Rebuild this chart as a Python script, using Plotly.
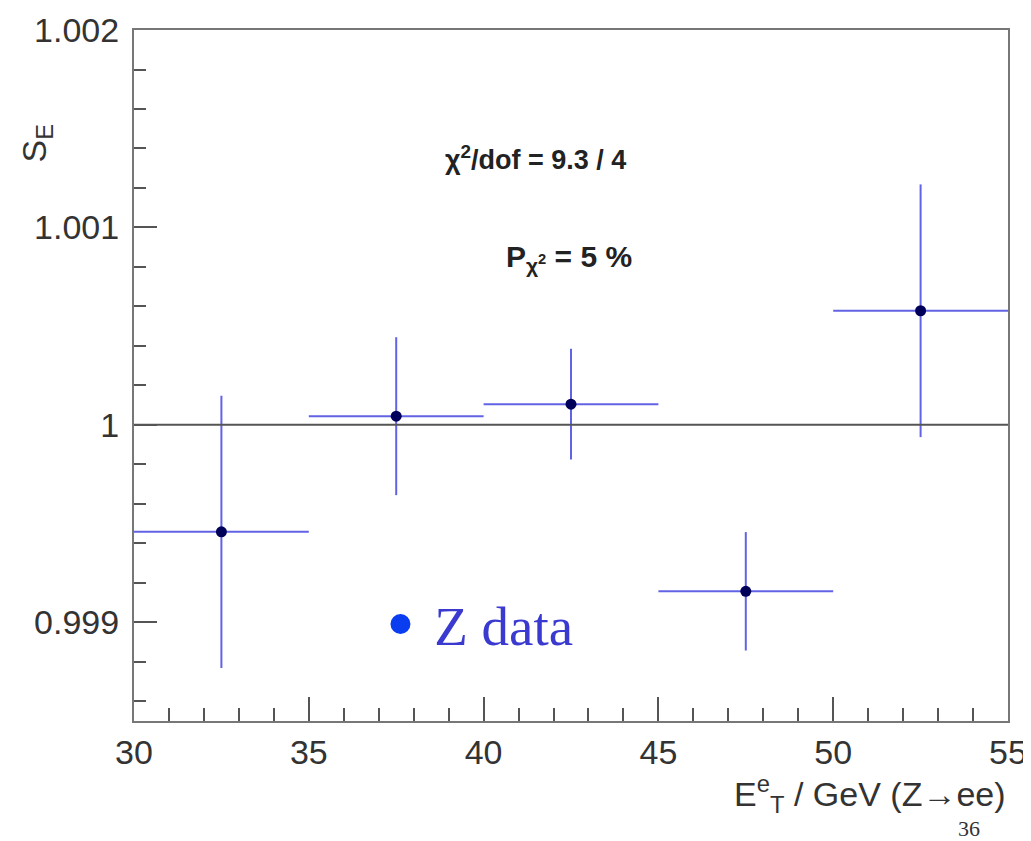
import plotly.graph_objects as go

# Data
bin_centers = [32.5, 37.5, 42.5, 47.5, 52.5]
bin_halfwidth = [2.5, 2.5, 2.5, 2.5, 2.5]
s_e = [0.999458, 1.000044, 1.000105, 0.999157, 1.000578]
s_e_err = [0.00069, 0.00040, 0.00028, 0.00030, 0.00064]
x_ticks = [30, 35, 40, 45, 50, 55]
y_ticks = [0.999, 1.0, 1.001, 1.002]
y_tick_labels = ["0.999", "1", "1.001", "1.002"]
x_range = [30, 55]
y_range = [0.9985, 1.0020001]
ref_value = 1.0

fig = go.Figure()

fig.add_trace(go.Scatter(
    x=bin_centers, y=s_e, mode="markers",
    marker=dict(color="#00005a", size=11),
    error_x=dict(type="data", array=bin_halfwidth, color="rgba(70,70,225,0.85)", thickness=2, width=0),
    error_y=dict(type="data", array=s_e_err, color="rgba(70,70,225,0.85)", thickness=2, width=0),
    showlegend=False,
))

# legend entry
fig.add_trace(go.Scatter(
    x=[None], y=[None], mode="markers", name=" Z data",
    marker=dict(color="#0a3cf0", size=22, line=dict(color="#0a3cf0", width=4)),
    showlegend=True,
))

fig.add_shape(type="line", xref="paper", x0=0, x1=1, yref="y", y0=ref_value, y1=ref_value,
              line=dict(color="#555555", width=2))

fig.add_annotation(text="<b>χ<sup>2</sup>/dof = 9.3 / 4</b>", xref="paper", yref="paper",
                   x=0.459, y=0.8145, yanchor="middle", showarrow=False,
                   font=dict(family="Liberation Sans", size=27, color="#222222"))
fig.add_annotation(text="<b>P<sub>χ<sup>2</sup></sub> = 5 %</b>", xref="paper", yref="paper",
                   x=0.498, y=0.67, yanchor="middle", showarrow=False,
                   font=dict(family="Liberation Sans", size=30, color="#222222"))

fig.add_annotation(text="S<sub>E</sub>", xref="paper", yref="paper", x=-0.112, y=0.836,
                   textangle=-90, showarrow=False, xanchor="center", yanchor="middle",
                   font=dict(family="Liberation Sans", size=34, color="#333333"))
fig.add_annotation(text="E<sup>e</sup><sub>T</sub> / GeV (Z→ee)", xref="paper", yref="paper",
                   x=1.0, y=-0.105, xanchor="right", yanchor="middle", showarrow=False,
                   font=dict(family="Liberation Sans", size=34, color="#333333"))
fig.add_annotation(text="36", xref="paper", yref="paper",
                   x=0.955, y=-0.155, xanchor="center", yanchor="middle", showarrow=False,
                   font=dict(family="Liberation Serif", size=22, color="#333333"))

fig.update_xaxes(range=x_range, tickvals=x_ticks, ticks="inside", ticklen=24, tickwidth=2,
                 tickcolor="#555555", showline=True, linecolor="#777777", linewidth=2, mirror=True,
                 showgrid=False, zeroline=False, automargin=False,
                 tickfont=dict(family="Liberation Sans", size=34, color="#333333"),
                 minor=dict(dtick=1, ticks="inside", ticklen=13, tickwidth=1.5, tickcolor="#555555", showgrid=False))
fig.update_yaxes(range=y_range, tickvals=y_ticks, ticktext=y_tick_labels, ticks="inside", ticklen=23,
                 tickwidth=2, tickcolor="#555555", showline=True, linecolor="#777777", linewidth=2,
                 mirror=True, showgrid=False, zeroline=False, ticklabelstandoff=6, automargin=False,
                 tickfont=dict(family="Liberation Sans", size=34, color="#333333"),
                 minor=dict(dtick=0.0002, tick0=0.998, ticks="inside", ticklen=12, tickwidth=1.5,
                            tickcolor="#555555", showgrid=False))

fig.update_layout(
    width=1031, height=841,
    margin=dict(l=126, r=31, t=22, b=128),
    plot_bgcolor="white", paper_bgcolor="white",
    legend=dict(x=0.282, y=0.14, xanchor="left", yanchor="middle", bgcolor="rgba(0,0,0,0)",
                font=dict(family="Liberation Serif", size=55, color="#3a3ad0")),
)

fig.write_html("out.html")
